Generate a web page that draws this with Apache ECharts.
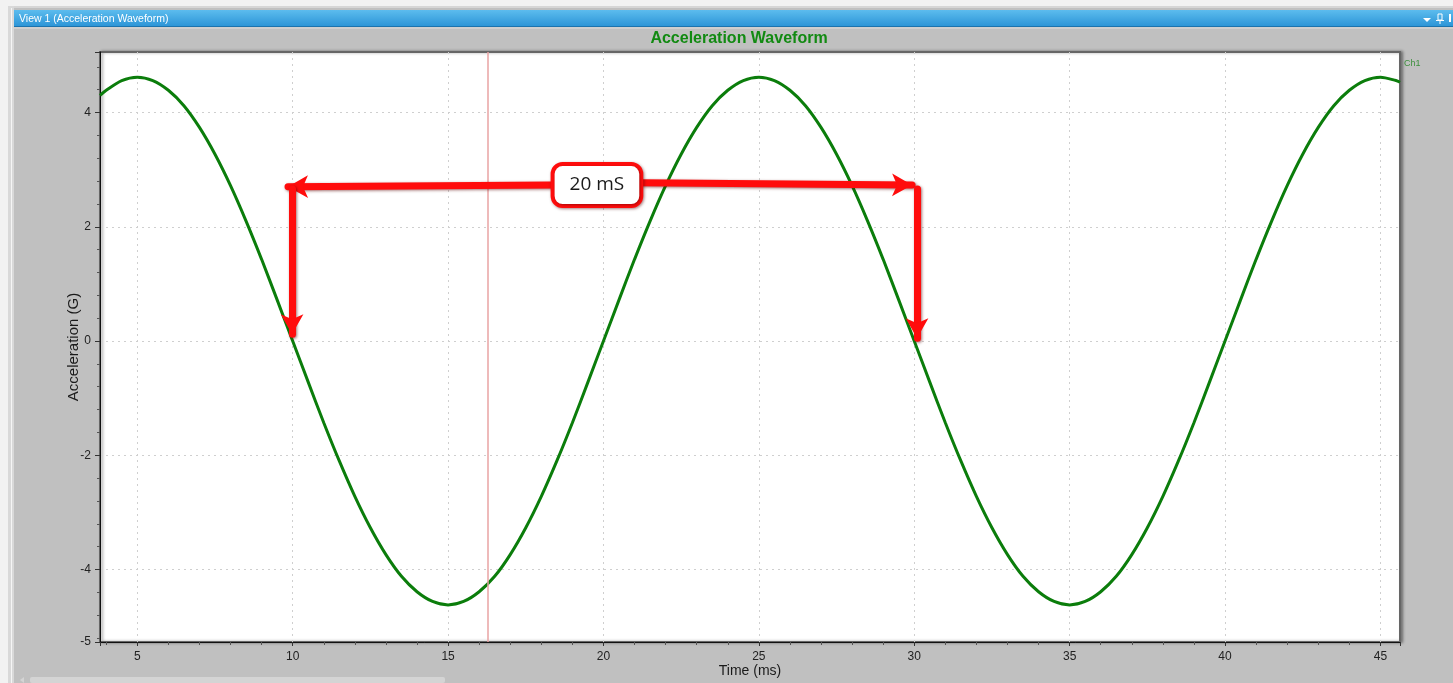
<!DOCTYPE html>
<html>
<head>
<meta charset="utf-8">
<script src="https://cdn.jsdelivr.net/npm/echarts@6/dist/echarts.min.js"></script>
<style>
html,body{margin:0;padding:0;background:#c0c0c0;}
#c{width:1453px;height:683px;}
</style>
</head>
<body>
<div id="c"></div>
<script>
// ---- data ----
const xRange = [3.8, 45.63];
const yRange = [-5.27, 5.06];
const times = [3.8,
  4, 4.5, 5, 5.5, 6, 6.5, 7, 7.5, 8, 8.5, 9, 9.5, 10, 10.5, 11, 11.5, 12, 12.5, 13, 13.5, 14, 14.5,
  15, 15.5, 16, 16.5, 17, 17.5, 18, 18.5, 19, 19.5, 20, 20.5, 21, 21.5, 22, 22.5, 23, 23.5, 24, 24.5, 25,
  25.5, 26, 26.5, 27, 27.5, 28, 28.5, 29, 29.5, 30, 30.5, 31, 31.5, 32, 32.5, 33, 33.5, 34, 34.5,
  35, 35.5, 36, 36.5, 37, 37.5, 38, 38.5, 39, 39.5, 40, 40.5, 41, 41.5, 42, 42.5, 43, 43.5, 44, 44.5, 45, 45.5,
  45.63];
const accel = [4.30,
  4.39, 4.56, 4.62, 4.56, 4.39, 4.12, 3.74, 3.27, 2.72, 2.10, 1.43, 0.72, 0.00, -0.72, -1.43, -2.10, -2.72, -3.27, -3.74, -4.12, -4.39, -4.56,
  -4.62, -4.56, -4.39, -4.12, -3.74, -3.27, -2.72, -2.10, -1.43, -0.72, 0.00, 0.72, 1.43, 2.10, 2.72, 3.27, 3.74, 4.12, 4.39, 4.56, 4.62,
  4.56, 4.39, 4.12, 3.74, 3.27, 2.72, 2.10, 1.43, 0.72, 0.00, -0.72, -1.43, -2.10, -2.72, -3.27, -3.74, -4.12, -4.39, -4.56,
  -4.62, -4.56, -4.39, -4.12, -3.74, -3.27, -2.72, -2.10, -1.43, -0.72, 0.00, 0.72, 1.43, 2.10, 2.72, 3.27, 3.74, 4.12, 4.39, 4.56, 4.62, 4.56,
  4.53];
const cursorTime = 16.29;
// annotation arrows: [start, end] in data coordinates
const arrowLeft = [[18.36, 2.73], [9.85, 2.70]];
const arrowRight = [[21.2, 2.77], [29.93, 2.73]];
const arrowDownLeft = [[9.98, 2.66], [9.98, 0.12]];
const arrowDownRight = [[30.09, 2.66], [30.09, 0.05]];
const spanLabel = {text: '20 mS', at: [19.79, 2.73]};

const chart = echarts.init(document.getElementById('c'), null, {renderer: 'canvas'});
const lineData = times.map((t, i) => [t, accel[i]]);
const red = '#ff0c0c';
function arrow(p) {
  return [{coord: p[0], symbol: 'none'}, {coord: p[1], symbol: 'arrow', symbolSize: [17, 20]}];
}
const option = {
  backgroundColor: '#c0c0c0',
  animation: false,
  title: {
    text: 'Acceleration Waveform', left: 739, top: 31, textAlign: 'center',
    textStyle: {fontFamily: 'Liberation Sans, Arial', fontSize: 16, fontWeight: 'bold', color: '#128a12'},
    padding: 0
  },
  legend: {
    left: 1399, top: 59, itemWidth: 0, itemHeight: 0, padding: 0,
    data: [{name: 'Ch1', icon: 'none'}],
    textStyle: {fontFamily: 'Liberation Sans, Arial', fontSize: 9, color: '#3d8f3d'},
    selectedMode: false
  },
  grid: {
    left: 100, right: 53, top: 52, bottom: 41, show: true,
    outerBoundsMode: 'none', containLabel: false,
    backgroundColor: '#ffffff', borderColor: '#666666', borderWidth: 2,
    shadowColor: 'rgba(0,0,0,0.35)', shadowBlur: 3, shadowOffsetX: 2, shadowOffsetY: 0
  },
  xAxis: {
    type: 'value', min: xRange[0], max: xRange[1], splitNumber: 8,
    name: 'Time (ms)', nameLocation: 'middle', nameGap: 22, nameMoveOverlap: false,
    nameTextStyle: {fontFamily: 'Liberation Sans, Arial', fontSize: 14, color: '#1a1a1a'},
    axisLine: {show: true, onZero: false, lineStyle: {color: '#111', width: 1}},
    axisTick: {show: true, length: 4, lineStyle: {color: '#333'}},
    minorTick: {show: true, splitNumber: 5, length: 3, lineStyle: {color: '#555'}},
    axisLabel: {showMinLabel: false, showMaxLabel: false, margin: 9,
      fontFamily: 'Liberation Sans, Arial', fontSize: 12, color: '#222'},
    splitLine: {show: true, showMinLine: false, showMaxLine: false,
      lineStyle: {color: '#cfcfcf', type: [2, 4], width: 1}}
  },
  yAxis: {
    type: 'value', min: yRange[0], max: yRange[1], splitNumber: 5,
    name: 'Acceleration (G)', nameLocation: 'middle', nameGap: 19, nameRotate: 90, nameMoveOverlap: false,
    nameTextStyle: {fontFamily: 'Liberation Sans, Arial', fontSize: 15, color: '#1a1a1a'},
    axisLine: {show: true, onZero: false, lineStyle: {color: '#111', width: 1}},
    axisTick: {show: true, length: 5, lineStyle: {color: '#333'}},
    minorTick: {show: true, splitNumber: 5, length: 3, lineStyle: {color: '#555'}},
    axisLabel: {showMaxLabel: false, showMinLabel: true, margin: 9,
      formatter: v => String(Math.round(v)),
      fontFamily: 'Liberation Sans, Arial', fontSize: 12, color: '#222'},
    splitLine: {show: true, showMinLine: false, showMaxLine: false,
      lineStyle: {color: '#cfcfcf', type: [2, 4], width: 1}}
  },
  series: [
    {
      name: 'Ch1', type: 'line', data: lineData, smooth: 0.3, showSymbol: false, z: 3,
      lineStyle: {color: '#0b7d0b', width: 3}, itemStyle: {color: '#0b7d0b'},
      markLine: {
        silent: true, symbol: 'none', label: {show: false}, animation: false,
        lineStyle: {color: '#e9a3a3', width: 1.5, type: 'solid'},
        data: [{xAxis: cursorTime}]
      }
    },
    {
      name: 'arrows', type: 'line', data: [], z: 10,
      markLine: {
        silent: true, label: {show: false}, animation: false,
        lineStyle: {color: red, width: 7, type: 'solid', cap: 'round',
          shadowColor: 'rgba(90,0,0,0.55)', shadowBlur: 3, shadowOffsetX: 1, shadowOffsetY: 1},
        itemStyle: {color: red},
        emphasis: {disabled: true},
        data: [arrow(arrowLeft), arrow(arrowRight), arrow(arrowDownLeft), arrow(arrowDownRight)]
      }
    },
    {
      name: 'label', type: 'line', data: [], z: 12,
      markPoint: {
        silent: true, animation: false, symbol: 'rect', symbolSize: 1,
        itemStyle: {color: 'rgba(0,0,0,0)'},
        label: {
          show: true, position: 'inside', formatter: spanLabel.text,
          fontFamily: 'Open Sans, Noto Sans', fontSize: 19, color: '#1a1a1a',
          backgroundColor: '#ffffff', borderColor: red, borderWidth: 4, borderRadius: 8,
          padding: [10, 15, 9, 15],
          shadowColor: 'rgba(80,0,0,0.5)', shadowBlur: 3, shadowOffsetX: 1, shadowOffsetY: 1
        },
        data: [{coord: spanLabel.at}]
      }
    }
  ],
  graphic: [
    {type: 'rect', shape: {x: 0, y: 0, width: 1453, height: 8}, style: {fill: '#f2f2f2'}, z: 0},
    {type: 'rect', shape: {x: 8, y: 6, width: 1445, height: 2}, style: {fill: '#d6d6d6'}, z: 0},
    {type: 'rect', shape: {x: 0, y: 0, width: 8, height: 683}, style: {fill: '#f2f2f2'}, z: 0},
    {type: 'rect', shape: {x: 8, y: 6, width: 6, height: 677}, style: {fill: '#d9d9d9'}, z: 0},
    {type: 'rect', shape: {x: 11, y: 8, width: 1, height: 675}, style: {fill: '#f5f5f5'}, z: 0},
    {type: 'rect', shape: {x: 14, y: 10, width: 1439, height: 17},
      style: {fill: new echarts.graphic.LinearGradient(0, 0, 0, 1, [
        {offset: 0, color: '#5cbcee'}, {offset: 1, color: '#2a93d6'}])}, z: 0},
    {type: 'rect', shape: {x: 14, y: 26, width: 1439, height: 1}, style: {fill: '#1c73ad'}, z: 0},
    {type: 'text', x: 19, y: 19, style: {text: 'View 1 (Acceleration Waveform)', fill: '#ffffff',
      font: '10.5px "Liberation Sans", Arial, sans-serif', verticalAlign: 'middle'}, z: 1},
    {type: 'polygon', shape: {points: [[1423, 18], [1431, 18], [1427, 22]]}, style: {fill: '#ffffff'}, z: 1},
    {type: 'rect', shape: {x: 1438, y: 14, width: 4, height: 6}, style: {fill: 'none', stroke: '#ffffff', lineWidth: 1}, z: 1},
    {type: 'rect', shape: {x: 1436, y: 20, width: 8, height: 1}, style: {fill: '#ffffff'}, z: 1},
    {type: 'rect', shape: {x: 1439.5, y: 21, width: 1, height: 3}, style: {fill: '#ffffff'}, z: 1},
    {type: 'rect', shape: {x: 1449, y: 14, width: 2, height: 8}, style: {fill: '#ffffff'}, z: 1},
    {type: 'rect', shape: {x: 14, y: 27, width: 1439, height: 2}, style: {fill: '#cfcfcf'}, z: 0},
    {type: 'rect', shape: {x: 30, y: 677, width: 415, height: 6, r: 2}, style: {fill: '#d4d4d4'}, z: 0},
    {type: 'polygon', shape: {points: [[24, 677], [24, 683], [20, 680]]}, style: {fill: '#d4d4d4'}, z: 0}
  ]
};
chart.setOption(option);
</script>
</body>
</html>
